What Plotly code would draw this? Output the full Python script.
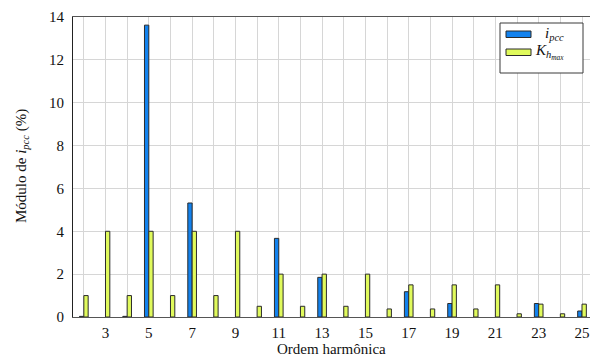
import plotly.graph_objects as go

# Harmonic orders and magnitudes (% of fundamental); None = no bar drawn
harmonics = list(range(2, 26))
i_pcc = [0.03, None, 0.03, 13.62, None, 5.32, None, None, None, 3.67, None, 1.85,
         None, None, None, 1.18, None, 0.63, None, None, None, 0.63, None, 0.28]
k_hmax = [1.0, 4.0, 1.0, 4.0, 1.0, 4.0, 1.0, 4.0, 0.5, 2.0, 0.5, 2.0,
          0.5, 2.0, 0.375, 1.5, 0.375, 1.5, 0.375, 1.5, 0.15, 0.6, 0.15, 0.6]
x_ticks = list(range(3, 26, 2))
y_ticks = list(range(0, 15, 2))

W, H = 590, 356
L, T, B, R = 73, 17, 39, 0
PW, PH = W - L - R, H - T - B
X0, X1 = 1.5, 1.5 + PW / 21.66

FONT = "Liberation Serif, DejaVu Serif, serif"
BLUE = "#1282ee"
LIME = "#e0fa5c"
EDGE = "#2b2b2b"
GRID = "#d6d6d6"
BAR_W = 0.2


def px(x):
    return (x - L) / PW


def py(y):
    return (T + PH - y) / PH


fig = go.Figure()
fig.add_trace(go.Bar(x=harmonics, y=i_pcc, width=BAR_W, offset=-BAR_W,
                     marker=dict(color=BLUE, line=dict(color=EDGE, width=1)),
                     showlegend=False))
fig.add_trace(go.Bar(x=harmonics, y=k_hmax, width=BAR_W, offset=0,
                     marker=dict(color=LIME, line=dict(color=EDGE, width=1)),
                     showlegend=False))

# Legend box drawn by hand
shapes = [
    dict(type="rect", xref="paper", yref="paper", x0=px(500), x1=px(583),
         y0=py(73), y1=py(23), line=dict(color="#3a3a3a", width=1),
         fillcolor="white", layer="above"),
    dict(type="rect", xref="paper", yref="paper", x0=px(506), x1=px(531),
         y0=py(37.5), y1=py(31), line=dict(color=EDGE, width=1),
         fillcolor=BLUE, layer="above"),
    dict(type="rect", xref="paper", yref="paper", x0=px(506), x1=px(531),
         y0=py(55.5), y1=py(49), line=dict(color=EDGE, width=1),
         fillcolor=LIME, layer="above"),
]

annotations = [
    dict(text="<i>i</i><sub><i>pcc</i></sub>", xref="paper", yref="paper",
         x=px(543), y=py(34), xanchor="left", yanchor="middle", showarrow=False,
         font=dict(family=FONT, size=15, color="#111")),
    dict(text="<i>K</i><sub><i>h</i><sub><i>max</i></sub></sub>", xref="paper", yref="paper",
         x=px(533), y=py(52), xanchor="left", yanchor="middle", showarrow=False,
         font=dict(family=FONT, size=15, color="#111")),
    dict(text="Ordem harmônica", xref="paper", yref="paper",
         x=0.5, y=py(349), xanchor="center", yanchor="middle", showarrow=False,
         font=dict(family=FONT, size=15, color="#111")),
    dict(text="Módulo de <i>i</i><sub><i>pcc</i></sub> (%)", xref="paper", yref="paper",
         x=px(22), y=py(166), xanchor="center", yanchor="middle", showarrow=False,
         textangle=-90, font=dict(family=FONT, size=15, color="#111")),
]

fig.update_layout(
    width=W, height=H,
    margin=dict(l=L, r=R, t=T, b=B, pad=0),
    plot_bgcolor="white", paper_bgcolor="white",
    barmode="overlay",
    font=dict(family=FONT, size=14, color="#111"),
    shapes=shapes, annotations=annotations,
    xaxis=dict(range=[X0, X1], tickvals=x_ticks, showgrid=True, gridcolor=GRID,
               gridwidth=1, zeroline=False, showline=True, linecolor="#555",
               linewidth=1, mirror=True, ticks="", ticklabelstandoff=2,
               minor=dict(dtick=1, tick0=2, showgrid=True, gridcolor=GRID, gridwidth=1),
               tickfont=dict(family=FONT, size=15)),
    yaxis=dict(range=[0, 14], tickvals=y_ticks, showgrid=True, gridcolor=GRID,
               gridwidth=1, zeroline=False, showline=True, linecolor="#222",
               linewidth=1, ticks="", ticklabelstandoff=5,
               tickfont=dict(family=FONT, size=15)),
)

fig.write_html("out.html")
